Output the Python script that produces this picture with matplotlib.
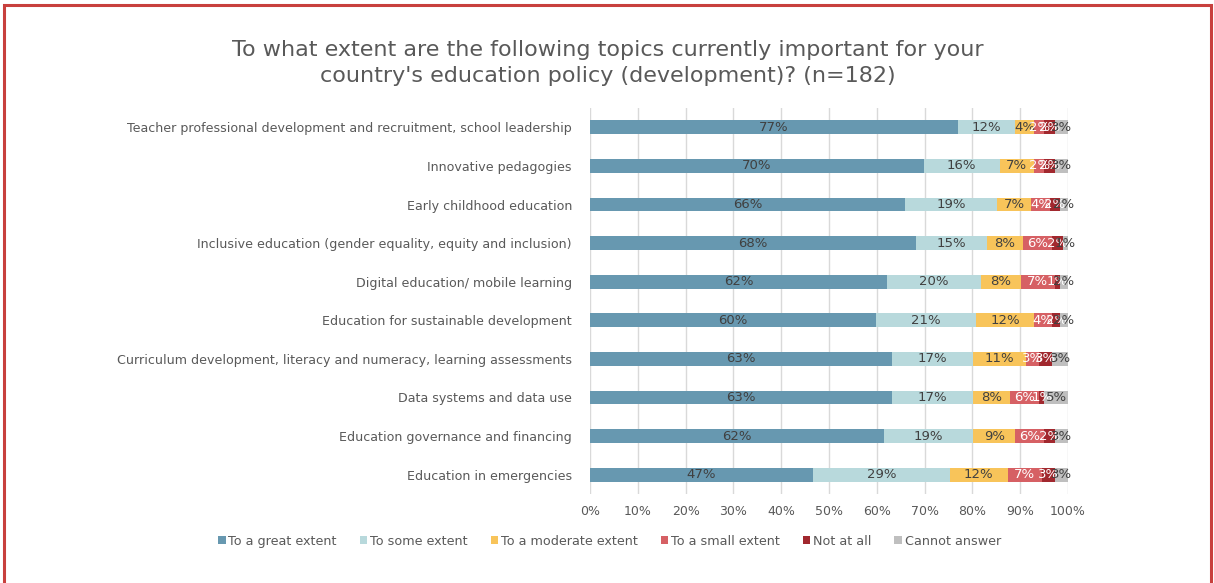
import matplotlib.pyplot as plt
from matplotlib.patches import Rectangle
import numpy as np

# Survey responses (number of respondents, n=182)
n_resp = 182

topics = [
    "Teacher professional development and recruitment, school leadership",
    "Innovative pedagogies",
    "Early childhood education",
    "Inclusive education (gender equality, equity and inclusion)",
    "Digital education/ mobile learning",
    "Education for sustainable development",
    "Curriculum development, literacy and numeracy, learning assessments",
    "Data systems and data use",
    "Education governance and financing",
    "Education in emergencies",
]

great_extent    = [140, 127, 120, 124, 113, 109, 115, 115, 112, 85]
some_extent     = [22, 29, 35, 27, 36, 38, 31, 31, 34, 52]
moderate_extent = [7, 13, 13, 14, 15, 22, 20, 14, 16, 22]
small_extent    = [4, 4, 7, 11, 13, 7, 5, 11, 11, 13]
not_at_all      = [4, 4, 4, 4, 2, 3, 5, 2, 4, 5]
cannot_answer   = [5, 5, 3, 2, 3, 3, 6, 9, 5, 5]

series_names = ["To a great extent", "To some extent", "To a moderate extent",
                "To a small extent", "Not at all", "Cannot answer"]
colors = ["#6798B0", "#B8D9DC", "#F8C45A", "#D66064", "#A1282E", "#BFBFBF"]
label_colors = ["#404040", "#404040", "#404040", "white", "white", "#404040"]

title_text = ("To what extent are the following topics currently important for your\n"
              "country's education policy (development)? (n=182)")

txt = "#595959"
plt.rcParams['font.family'] = ['DejaVu Sans']

fig = plt.figure(figsize=(12.14, 5.83), dpi=100)
ax = fig.add_axes([0.486, 0.1527, 0.3937, 0.662])

counts = np.array([great_extent, some_extent, moderate_extent,
                   small_extent, not_at_all, cannot_answer], dtype=float)
pct = counts / n_resp * 100

y = np.arange(len(topics))
left = np.zeros(len(topics))
for vals, name, col, lc in zip(pct, series_names, colors, label_colors):
    bars = ax.barh(y, vals, left=left, height=0.36, color=col, label=name, zorder=2)
    for b, v in zip(bars, vals):
        ax.text(b.get_x() + b.get_width() / 2, b.get_y() + b.get_height() / 2,
                f"{v:.0f}%", ha="center", va="center", fontsize=9.5,
                color=lc, zorder=3)
    left += vals

ax.set_ylim(len(topics) - 0.5, -0.5)
ax.set_xlim(0, 100)
ax.set_xticks(np.arange(0, 101, 10))
ax.set_xticklabels([f"{t}%" for t in range(0, 101, 10)])
ax.set_yticks(y)
ax.set_yticklabels(topics)
ax.tick_params(axis="x", colors=txt, labelsize=9, length=0, pad=8)
ax.tick_params(axis="y", colors=txt, labelsize=9.1, length=0, pad=13)
ax.grid(axis="x", color="#D9D9D9", linewidth=1, zorder=0)
for s in ax.spines.values():
    s.set_visible(False)

fig.text(0.501, 0.892, title_text, ha="center", va="center", fontsize=16,
         color=txt, linespacing=1.36)

handles, labels = ax.get_legend_handles_labels()
fig.legend(handles, labels, loc="center", bbox_to_anchor=(0.502, 0.072), ncol=6,
           frameon=False, fontsize=9.2, labelcolor=txt, handlelength=0.6,
           handleheight=0.6, handletextpad=0.2, columnspacing=1.8)

# red frame around the figure
fig.patches.append(Rectangle((4 / 1214, -0.05), 1207 / 1214, 1 - 5 / 583 + 0.05,
                             transform=fig.transFigure, fill=False,
                             edgecolor="#C8403D", linewidth=2.2))

fig.savefig("out.png", dpi=100)
